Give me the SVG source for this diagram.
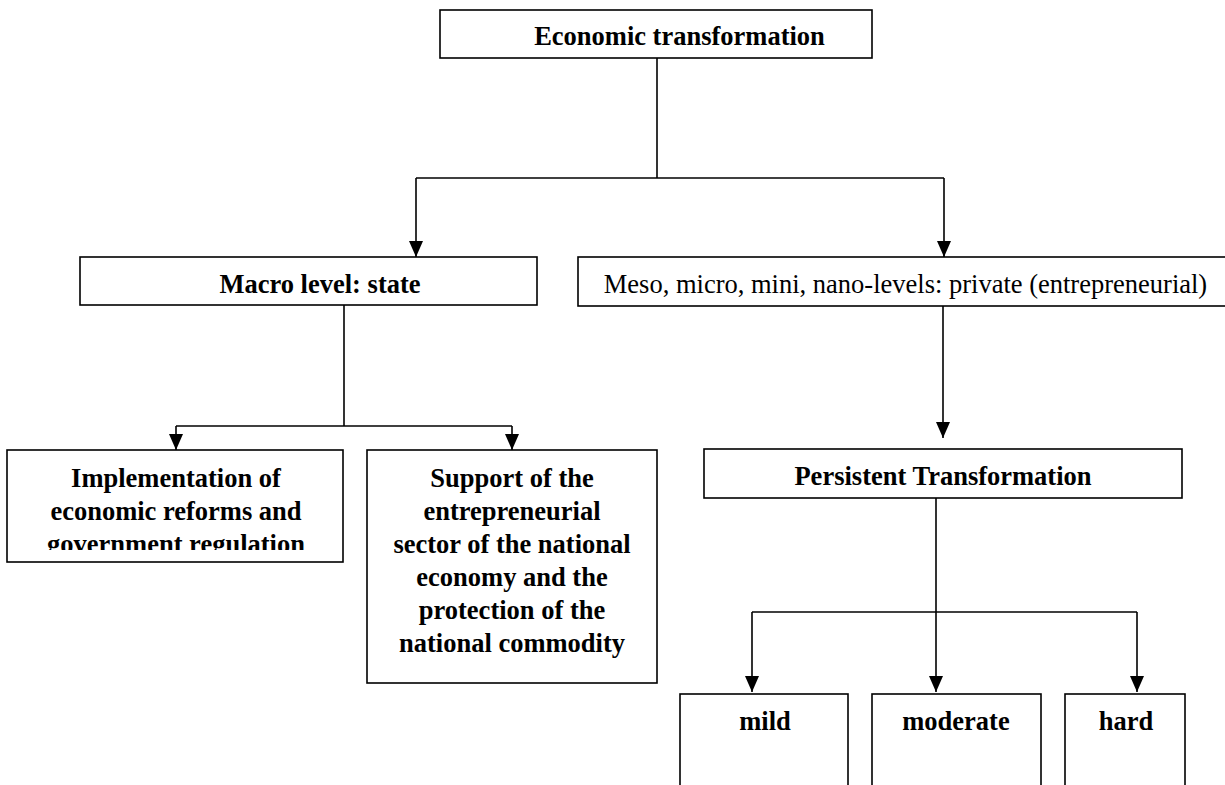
<svg xmlns="http://www.w3.org/2000/svg" width="1225" height="785" viewBox="0 0 1225 785">
<style>
.box{fill:#fff;stroke:#000;stroke-width:1.6}
.b{font-family:"Liberation Serif","Times New Roman",serif;font-weight:bold;font-size:26.5px;fill:#000;text-anchor:middle}
.n{font-family:"Liberation Serif","Times New Roman",serif;font-size:26.5px;fill:#000;text-anchor:middle}
.c{fill:none;stroke:#000;stroke-width:1.6}
</style>
<defs>
<marker id="ah" markerUnits="userSpaceOnUse" markerWidth="18" markerHeight="16" refX="16" refY="7" orient="auto">
<path d="M0,0 L16,7 L0,14 Z" fill="#000"/>
</marker>
<clipPath id="clipImpl"><rect x="7" y="450" width="336" height="100"/></clipPath>
</defs>
<g id="connectors">
<path class="c" d="M657,58 V178"/>
<path class="c" d="M416,178 H944"/>
<path class="c" d="M416,178 V257" marker-end="url(#ah)"/>
<path class="c" d="M944,178 V257" marker-end="url(#ah)"/>
<path class="c" d="M344,305 V426"/>
<path class="c" d="M176,426 H512"/>
<path class="c" d="M176,426 V450" marker-end="url(#ah)"/>
<path class="c" d="M512,426 V450" marker-end="url(#ah)"/>
<path class="c" d="M943,306 V438" marker-end="url(#ah)"/>
<path class="c" d="M936,498 V692" marker-end="url(#ah)"/>
<path class="c" d="M752,612 H1137"/>
<path class="c" d="M752,612 V692" marker-end="url(#ah)"/>
<path class="c" d="M1137,612 V692" marker-end="url(#ah)"/>
</g>
<g id="node-economic">
<rect class="box" x="440" y="10" width="432" height="48"/>
<text class="b" x="679.5" y="45">Economic transformation</text>
</g>
<g id="node-macro">
<rect class="box" x="80" y="257" width="457" height="48"/>
<text class="b" x="320" y="293">Macro level: state</text>
</g>
<g id="node-meso">
<rect class="box" x="578" y="257" width="660" height="49"/>
<text class="n" x="905.5" y="293">Meso, micro, mini, nano-levels: private (entrepreneurial)</text>
</g>
<g id="node-implementation">
<rect class="box" x="7" y="450" width="336" height="112"/>
<g clip-path="url(#clipImpl)">
<text class="b" x="176" y="487">Implementation of</text>
<text class="b" x="176" y="520">economic reforms and</text>
<text class="b" x="176" y="553">government regulation</text>
</g>
</g>
<g id="node-support">
<rect class="box" x="367" y="450" width="290" height="233"/>
<text class="b" x="512" y="487">Support of the</text>
<text class="b" x="512" y="520">entrepreneurial</text>
<text class="b" x="512" y="553">sector of the national</text>
<text class="b" x="512" y="586">economy and the</text>
<text class="b" x="512" y="619">protection of the</text>
<text class="b" x="512" y="652">national commodity</text>
</g>
<g id="node-persistent">
<rect class="box" x="704" y="449" width="478" height="49"/>
<text class="b" x="943" y="485">Persistent Transformation</text>
</g>
<g id="node-mild">
<rect class="box" x="680" y="694" width="168" height="100"/>
<text class="b" x="765" y="730">mild</text>
</g>
<g id="node-moderate">
<rect class="box" x="872" y="694" width="169" height="100"/>
<text class="b" x="956" y="730">moderate</text>
</g>
<g id="node-hard">
<rect class="box" x="1065" y="694" width="120" height="100"/>
<text class="b" x="1126" y="730">hard</text>
</g>
</svg>
